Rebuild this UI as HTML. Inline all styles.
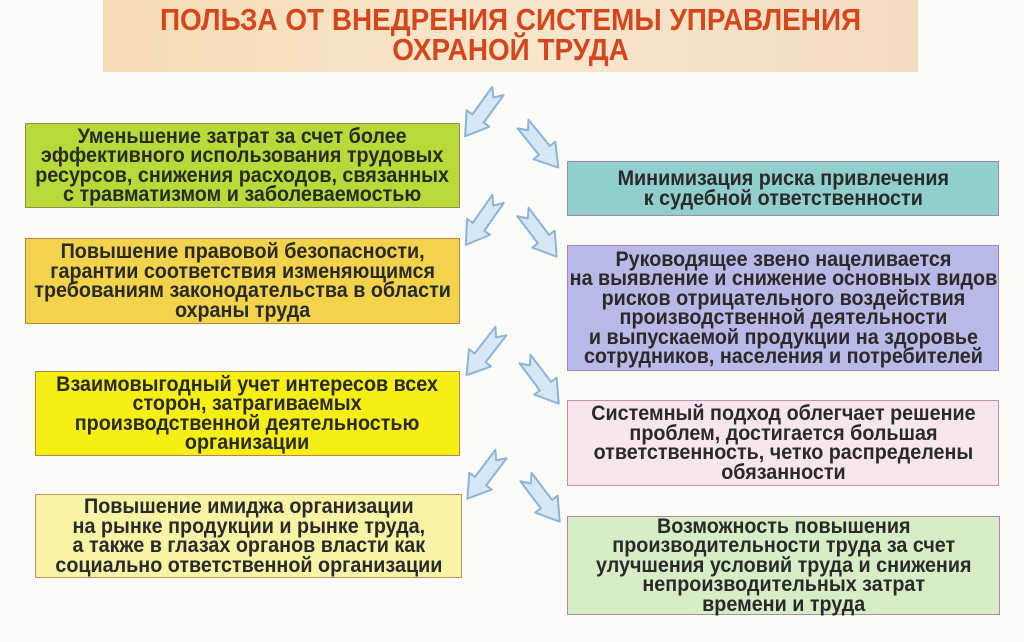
<!DOCTYPE html>
<html><head><meta charset="utf-8"><style>
html,body{margin:0;padding:0}
body{width:1024px;height:642px;position:relative;overflow:hidden;background:#fbfcf8;font-family:"Liberation Sans",sans-serif}
.title{position:absolute;left:103px;top:0;width:815px;height:72px;background:linear-gradient(90deg,#f6dcb4,#f8e6cc 50%,#f4dcc0);color:#d4461c;font-weight:bold;font-size:31px;line-height:30px;text-align:center;padding-top:5px;box-sizing:border-box}
.title span{display:inline-block;transform:scaleX(0.9);white-space:nowrap}
.b{position:absolute;display:flex;align-items:center;justify-content:center;text-align:center;font-weight:bold;font-size:21px;line-height:19.5px;color:#2a2a2a;box-sizing:border-box;border:1.5px solid #b07a50}
.b span{display:inline-block;transform:scaleX(0.94);white-space:nowrap}
</style></head><body>
<div class="title"><span>ПОЛЬЗА ОТ ВНЕДРЕНИЯ СИСТЕМЫ УПРАВЛЕНИЯ<br>ОХРАНОЙ ТРУДА</span></div>

<div class="b" style="left:25px;top:123px;width:435px;height:85px;background:#b6da38;border-color:#9a8a50"><span>Уменьшение затрат за счет более<br>эффективного использования трудовых<br>ресурсов, снижения расходов, связанных<br>с травматизмом и заболеваемостью</span></div>
<div class="b" style="left:25px;top:238px;width:435px;height:86px;background:#f3d34c;border-color:#c0804a"><span>Повышение правовой безопасности,<br>гарантии соответствия изменяющимся<br>требованиям законодательства в области<br>охраны труда</span></div>
<div class="b" style="left:35px;top:371px;width:425px;height:85px;background:#f5ef14;border-color:#c08048"><span>Взаимовыгодный учет интересов всех<br>сторон, затрагиваемых<br>производственной деятельностью<br>организации</span></div>
<div class="b" style="left:35px;top:494px;width:427px;height:84px;background:#f8f4a6;border-color:#c8906a"><span>Повышение имиджа организации<br>на рынке продукции и рынке труда,<br>а также в глазах органов власти как<br>социально ответственной организации</span></div>

<div class="b" style="left:567px;top:161px;width:432px;height:55px;background:#90cfcc;border-color:#a08ab0"><span>Минимизация риска привлечения<br>к судебной ответственности</span></div>
<div class="b" style="left:567px;top:245px;width:432px;height:126px;background:#b8b9e6;border-color:#b080b8"><span>Руководящее звено нацеливается<br>на выявление и снижение основных видов<br>рисков отрицательного воздействия<br>производственной деятельности<br>и выпускаемой продукции на здоровье<br>сотрудников, населения и потребителей</span></div>
<div class="b" style="left:567px;top:400px;width:432px;height:86px;background:#f7e6ee;border-color:#c890a8"><span>Системный подход облегчает решение<br>проблем, достигается большая<br>ответственность, четко распределены<br>обязанности</span></div>
<div class="b" style="left:567px;top:516px;width:433px;height:99px;background:#d6edc6;border-color:#b08aa8"><span>Возможность повышения<br>производительности труда за счет<br>улучшения условий труда и снижения<br>непроизводительных затрат<br>времени и труда</span></div>

<svg width="1024" height="642" style="position:absolute;left:0;top:0" xmlns="http://www.w3.org/2000/svg">
<defs><polygon id="ar" points="0,-7 34,-7 34,-14 56,0 34,14 34,7 0,7 8,0" fill="#d6e8f5" stroke="#8db3d6" stroke-width="2" stroke-linejoin="round"/></defs>
<use href="#ar" transform="translate(498,91) rotate(126)"/>
<use href="#ar" transform="translate(498,199) rotate(125)"/>
<use href="#ar" transform="translate(501,331) rotate(128)"/>
<use href="#ar" transform="translate(501,454) rotate(127)"/>
<use href="#ar" transform="translate(523,124) rotate(51)"/>
<use href="#ar" transform="translate(523,212) rotate(53)"/>
<use href="#ar" transform="translate(525,359) rotate(53)"/>
<use href="#ar" transform="translate(526,477) rotate(53)"/>
</svg>
</body></html>
